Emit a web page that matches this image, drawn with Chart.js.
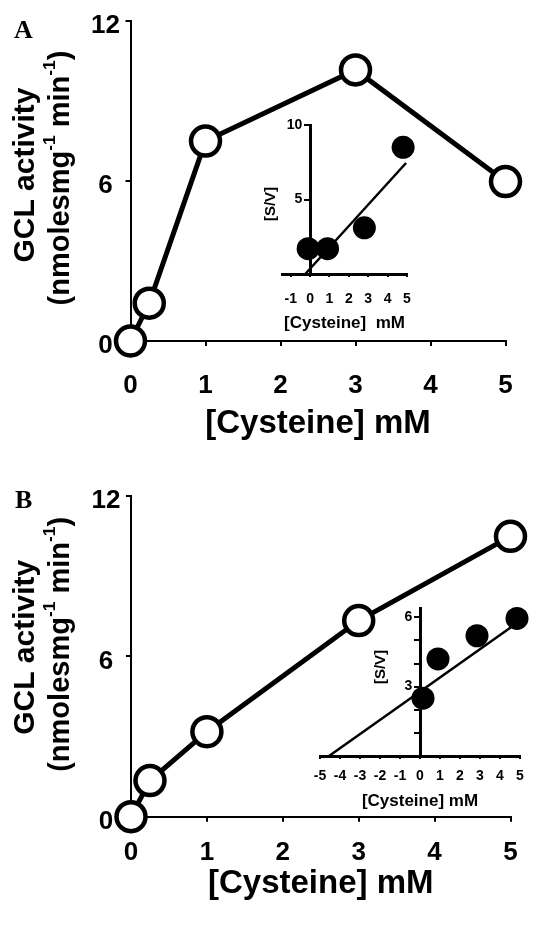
<!DOCTYPE html>
<html>
<head>
<meta charset="utf-8">
<script src="https://cdn.jsdelivr.net/npm/chart.js@4.4.0/dist/chart.umd.min.js"></script>
<style>
  body { margin: 0; background: #fff; }
  #figura { position: relative; width: 542px; height: 926px; overflow: hidden; background: #fff; }
  canvas { position: absolute; }
  .letra { position: absolute; font-family: "Liberation Serif", "Times New Roman", serif; font-weight: bold; font-size: 26px; line-height: 26px; }
</style>
</head>
<body>
<div id="figura">
  <canvas id="graficoA" width="542" height="460" style="left:0px;top:0px"></canvas>
  <canvas id="insetA" width="190" height="250" style="left:240px;top:100px"></canvas>
  <canvas id="graficoB" width="542" height="466" style="left:0px;top:460px"></canvas>
  <canvas id="insetB" width="262" height="236" style="left:280px;top:590px"></canvas>
  <div class="letra" style="left:14px;top:17px">A</div>
  <div class="letra" style="left:15px;top:487px">B</div>
</div>
<script>
// painel A
const cisteinaA = [0, 0.25, 1, 3, 5];
const atividadeA = [0, 1.42, 7.5, 10.17, 5.98];
const insetCisteinaA = [-0.1, 0.9, 2.8, 4.8];
const insetSVA = [1.7, 1.7, 3.1, 8.5];
const retaXA = [-0.25, 4.95];
const retaYA = [0, 7.45];

// painel B
const cisteinaB = [0, 0.25, 1, 3, 5];
const atividadeB = [0, 1.35, 3.18, 7.34, 10.49];
const insetCisteinaB = [0.15, 0.9, 2.85, 4.85];
const insetSVB = [2.5, 4.2, 5.2, 5.95];
const retaXB = [-4.55, 4.85];
const retaYB = [0, 5.75];

// ticks
const ticksPrincipalX = [0, 1, 2, 3, 4, 5];
const ticksPrincipalY = [0, 6, 12];
const ticksInsetXA = [-1, 0, 1, 2, 3, 4, 5];
const ticksInsetYA = [5, 10];
const rotulosInsetYA = [5, 10];
const ticksInsetXB = [-5, -4, -3, -2, -1, 0, 1, 2, 3, 4, 5];
const ticksInsetYB = [1, 2, 3, 4, 5, 6];
const rotulosInsetYB = [3, 6];

const familia = '"Liberation Sans", Arial, Helvetica, sans-serif';

function fonte(tam) {
  return "bold " + tam + "px " + familia;
}

function pontos(xs, ys) {
  return xs.map(function (x, i) { return { x: x, y: ys[i] }; });
}

function fixarTicks(valores) {
  return function (s) {
    s.ticks = valores.map(function (v) { return { value: v }; });
  };
}

// titulo do eixo y girado, com sobrescrito
const tituloY = {
  id: "tituloY",
  afterDraw: function (chart, args, opts) {
    if (!opts.linhas) return;
    const ctx = chart.ctx;
    const area = chart.chartArea;
    const base = opts.noZero ? chart.scales.x.getPixelForValue(0) : area.left;
    ctx.save();
    ctx.fillStyle = "#000";
    ctx.textBaseline = "middle";
    ctx.textAlign = "left";
    opts.linhas.forEach(function (linha) {
      let total = 0;
      linha.partes.forEach(function (p) {
        ctx.font = fonte(p.sup ? linha.tam * 0.6 : linha.tam);
        total += ctx.measureText(p.t).width;
      });
      ctx.save();
      ctx.translate(base + linha.dx, (area.top + area.bottom) / 2 + linha.dy);
      ctx.rotate(-Math.PI / 2);
      let pos = -total / 2;
      linha.partes.forEach(function (p) {
        ctx.font = fonte(p.sup ? linha.tam * 0.6 : linha.tam);
        ctx.fillText(p.t, pos, p.sup ? -linha.tam * 0.36 : 0);
        pos += ctx.measureText(p.t).width;
      });
      ctx.restore();
    });
    ctx.restore();
  }
};

function criarPrincipal(id, xs, ys, cfg) {
  new Chart(document.getElementById(id), {
    type: "line",
    plugins: [tituloY],
    data: {
      datasets: [{
        data: pontos(xs, ys),
        borderColor: "#000",
        borderWidth: 5,
        pointRadius: 14.5,
        pointBorderWidth: 4.5,
        pointBackgroundColor: "#fff",
        pointBorderColor: "#000",
        tension: 0,
        clip: false
      }]
    },
    options: {
      responsive: false,
      animation: false,
      layout: { padding: { left: 0, right: cfg.direita, top: cfg.topo, bottom: 0 } },
      plugins: {
        legend: { display: false },
        tooltip: { enabled: false },
        tituloY: {
          linhas: [
            { partes: [{ t: "GCL activity" }], tam: 30, dx: -105, dy: cfg.dy1 },
            { partes: [{ t: "(nmolesmg" }, { t: "-1", sup: true }, { t: " min" }, { t: "-1", sup: true }, { t: ")" }], tam: 29, dx: -70, dy: cfg.dy2 }
          ]
        }
      },
      scales: {
        x: {
          type: "linear",
          min: 0,
          max: 5,
          afterFit: function (s) { s.height = cfg.alturaX; },
          afterBuildTicks: fixarTicks(ticksPrincipalX),
          ticks: { maxRotation: 0, color: "#000", font: { family: familia, size: 26, weight: "bold" }, padding: cfg.padX },
          grid: { drawOnChartArea: false, tickLength: 5, color: "#000", lineWidth: 2 },
          border: { color: "#000", width: 2 },
          title: { display: true, text: "[Cysteine] mM", color: "#000", font: { family: familia, size: 33, weight: "bold" }, padding: { top: 0, bottom: cfg.padTitulo } }
        },
        y: {
          min: 0,
          max: 12,
          afterFit: function (s) { s.width = cfg.larguraY; },
          afterBuildTicks: fixarTicks(ticksPrincipalY),
          ticks: { color: "#000", font: { family: familia, size: 26, weight: "bold" }, padding: 5.5, crossAlign: "center", labelOffset: 5 },
          grid: { drawOnChartArea: false, tickLength: 5, color: "#000", lineWidth: 2 },
          border: { color: "#000", width: 2 }
        }
      }
    }
  });
}

function criarInset(id, xs, ys, rx, ry, cfg) {
  new Chart(document.getElementById(id), {
    type: "scatter",
    plugins: [tituloY],
    data: {
      datasets: [
        {
          data: pontos(xs, ys),
          pointRadius: cfg.raio,
          pointBackgroundColor: "#000",
          pointBorderColor: "#000",
          pointBorderWidth: 0,
          clip: false
        },
        {
          data: pontos(rx, ry),
          showLine: true,
          borderColor: "#000",
          borderWidth: 2.5,
          pointRadius: 0,
          clip: false
        }
      ]
    },
    options: {
      responsive: false,
      animation: false,
      layout: { padding: cfg.padding },
      plugins: {
        legend: { display: false },
        tooltip: { enabled: false },
        tituloY: {
          noZero: true,
          linhas: [{ partes: [{ t: "[S/V]" }], tam: 15, dx: cfg.svDx, dy: cfg.svDy }]
        }
      },
      scales: {
        x: {
          type: "linear",
          min: cfg.xMin,
          max: cfg.xMax,
          afterFit: function (s) { s.height = 60; },
          afterBuildTicks: fixarTicks(cfg.ticksX),
          ticks: { autoSkip: false, maxRotation: 0, color: "#000", font: { family: familia, size: 14, weight: "bold" }, padding: cfg.padX },
          grid: { drawOnChartArea: false, tickLength: 3, color: "#000", lineWidth: 2 },
          border: { color: "#000", width: 3 },
          title: { display: true, text: cfg.tituloX, color: "#000", font: { family: familia, size: 17, weight: "bold" }, padding: { top: 0, bottom: cfg.padTitulo } }
        },
        y: {
          min: 0,
          max: cfg.yMax,
          position: { x: 0 },
          afterBuildTicks: fixarTicks(cfg.ticksY),
          ticks: {
            autoSkip: false,
            color: "#000",
            font: { family: familia, size: 14, weight: "bold" },
            // o rotulo fica colado no eixo; os espacos o afastam para a esquerda
            callback: function (v) { return cfg.rotulosY.includes(v) ? v + "  " : ""; }
          },
          grid: { drawOnChartArea: false, tickLength: 5, color: "#000", lineWidth: 2 },
          border: { color: "#000", width: 3 }
        }
      }
    }
  });
}

criarPrincipal("graficoA", cisteinaA, atividadeA, {
  direita: 36.5, topo: 20, alturaX: 119, larguraY: 130.5, padX: 24, padTitulo: 16, dy1: -6, dy2: -3
});
criarPrincipal("graficoB", cisteinaB, atividadeB, {
  direita: 31.5, topo: 36, alturaX: 109.3, larguraY: 131, padX: 16, padTitulo: 22, dy1: -9, dy2: -12
});

criarInset("insetA", insetCisteinaA, insetSVA, retaXA, retaYA, {
  raio: 11.5, xMin: -1.45, xMax: 5, yMax: 10, ticksX: ticksInsetXA, ticksY: ticksInsetYA, rotulosY: rotulosInsetYA,
  padding: { left: 42, right: 23, top: 25, bottom: 16 },
  padX: 13.5, padTitulo: 0, tituloX: "[Cysteine]  mM", svDx: -39.5, svDy: 4.5
});
criarInset("insetB", insetCisteinaB, insetSVB, retaXB, retaYB, {
  raio: 11.5, xMin: -5, xMax: 5, yMax: 6.4, ticksX: ticksInsetXB, ticksY: ticksInsetYB, rotulosY: rotulosInsetYB,
  padding: { left: 40, right: 22, top: 18, bottom: 10 },
  padX: 9, padTitulo: 4.5, tituloX: "[Cysteine] mM", svDx: -39, svDy: -15
});
</script>
</body>
</html>
